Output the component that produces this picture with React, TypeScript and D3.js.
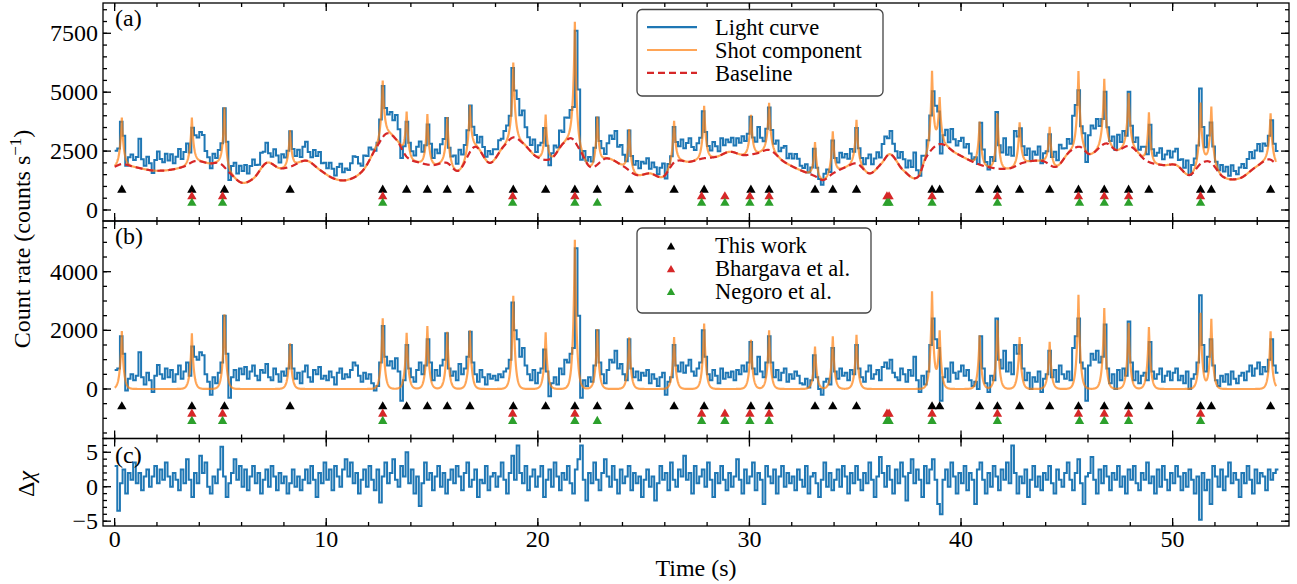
import React from "react";
import * as d3 from "d3";

// ---------- data ----------
const BIN = 0.125; // s, light-curve bin width
// baseline-subtracted light curve (counts s^-1), one value per bin starting at t = 0
const detrended = [
  650, 700, 1800, 1200, -50, 350, 500, 300,
  450, 1250, 400, 150, 550, 300, -100, 450,
  820, 500, 350, 700, 400, 650, 250, 500,
  800, 350, 600, 900, 450, 1450, 1100, 1000,
  1250, 1150, 500, 250, -200, 400, 200, 550,
  900, 2500, 1200, -300, 400, 650, 300, 700,
  500, 750, 350, 600, 800, 450, 300, 650,
  550, 850, 400, 300, 700, 500, 250, 600,
  450, 700, 1500, 700, 350, 550, 200, 600,
  800, 400, 250, 650, 500, 750, 350, 450,
  300, 600, 400, 150, 550, 700, 350, 500,
  400, 650, 900, 800, 450, 250, 550, 350,
  500, 200, -50, 100, 900, 2150, 1100, 800,
  950, 700, 1050, 600, -400, 300, 1500, 700,
  400, 250, 650, 900, 500, 800, 1700, 900,
  300, 650, 450, 800, 1000, 1900, 700, 450,
  600, 300, 850, 500, 700, 1100, 1950, 900,
  500, 250, 650, 400, 150, 500, 350, 450,
  300, 500, 400, 600, 700, 1000, 2950, 2000,
  1700, 1100, 1400, 800, 500, 300, 650, 200,
  550, 700, 1350, 600, -250, 200, 400, 150,
  700, 500, 1000, 900, 1200, 1400, 4800, 2500,
  -300, 300, 100, 400, 250, 800, 2000, 900,
  500, 200, 650, 1000, 900, 1300, 700, 850,
  500, 300, 1700, 700, 400, 600, 300, 550,
  450, 650, 200, 500, 350, 100, 400, 550,
  -200, 250, 400, 1500, 800, 600, 900, 550,
  800, 1000, 600, 450, 700, 900, 2000, 1100,
  500, 300, 650, 450, 200, 700, 350, 550,
  400, 600, 300, 650, 500, 800, 600, 900,
  1600, 700, 500, 1100, 600, 400, 900, 1800,
  900, 400, 650, 300, 550, 700, 250, 500,
  350, 600, 450, 200, 150, 350, 50, 300,
  1150, 400, 0, -200, 250, 350, 150, 1400,
  600, 350, 700, 450, 550, 300, 650, 500,
  1500, 700, 400, 250, 600, 800, 350, 500,
  650, 300, 750, 900, 700, 1000, 550, 400,
  300, 700, 500, 250, 650, 450, 1100, 300,
  -100, 450, 150, 600, 1500, 2400, 1700, 1400,
  -400, 400, 700, 250, 900, 550, 350, 600,
  800, 450, 650, 300, 100, 250, 0, 1800,
  700, 200, -100, 450, 300, 2400, 1000, 700,
  1300, 600, 900, 500, 1500, 1200, 1500, 700,
  300, 550, 0, 400, 250, 600, -100, 350,
  500, 1300, 400, 650, 250, 800, 500, 350,
  600, 300, 1400, 1800, 2400, 900, 700, -400,
  800, 1200, 1000, 1300, 900, 1100, 2200, 700,
  200, 500, 0, 650, 300, 700, 450, 2300,
  900, 300, 600, 200, 450, 550, 300, 1600,
  600, 350, 500, 700, 250, 450, 600, 300,
  550, 700, 300, 450, 200, 600, 0, 350,
  500, 900, 3200, 1500, 600, 1100, 1700, 800,
  300, 100, 450, 250, 500, 150, 600, 350,
  200, 450, 550, 300, 600, 800, 450, 700,
  900, 500, 750, 600, 1000, 1700, 800, 550,
];

// residuals, one per bin
const deltaChi = [
  3.0, -3.5, 0.5, 2.5, -1.0, 2.0, 1.0, 3.5,
  0.5, 2.0, -0.5, 1.5, 2.5, 0.0, 1.5, 3.0,
  0.5, 2.5, 1.0, 3.5, 1.5, 0.0, 2.0, 1.0,
  -0.5, 2.5, 0.5, 4.0, 1.0, -1.5, 2.0, 0.5,
  4.5, 2.0, 3.5, 0.0, -1.0, 1.5, 0.5, 2.5,
  5.8, 1.5, -1.5, 0.5, 2.0, 4.0, 1.0, 3.0,
  0.0, 2.5, -0.5, 1.5, 3.0, 0.5, 2.0, -1.0,
  1.0, 2.5, 0.0, 3.0, 1.5, -0.5, 2.0, 0.5,
  1.5, -1.0, 0.5, 2.5, 0.0, 1.5, -0.5, 1.0,
  2.5, 0.5, 3.0, 1.0, -1.5, 2.0, 0.5, 3.5,
  1.0, 2.5, -0.5, 3.0, 1.5, 0.0, 2.5, 4.0,
  1.5, 3.5, 0.5, 2.0, -1.0, 1.0, 2.5, 0.0,
  3.0, 1.0, -0.5, 2.5, -2.3, 1.5, 3.5, 0.5,
  2.0, 4.0, 1.0, 0.0, 3.0, 1.5, 5.0, 0.5,
  2.5, -1.0, 1.5, -2.8, 0.5, 3.5, 1.0, 2.0,
  -0.5, 1.5, 3.0, 0.0, 2.0, -1.0, 1.0, 2.5,
  0.5, 3.0, 1.5, -0.5, 2.0, 3.5, 0.0, 1.0,
  2.5, -1.5, 1.0, 0.5, 3.0, -0.5, 1.5, 2.0,
  0.0, 1.5, 3.5, 1.0, -1.0, 2.0, 4.5, 1.0,
  6.0, 2.0, 0.5, 3.0, -0.5, 1.5, 2.5, 0.0,
  1.5, 3.0, -1.5, 1.0, 2.5, 0.0, 3.5, 1.5,
  -0.5, 2.0, 1.0, 3.0, 0.5, -1.0, 2.5, 4.0,
  6.0, 1.0, -2.0, 2.0, 0.5, 3.5, 1.0, -0.5,
  2.0, 4.0, 1.5, 0.0, 3.0, 1.0, -1.0, 2.5,
  0.5, 1.5, 3.0, -0.5, 2.0, 0.5, 1.5, -1.5,
  1.0, 2.5, 0.0, 1.5, -2.0, 0.5, 3.0, 1.0,
  2.0, -0.5, 3.5, 1.0, 0.0, 2.5, 1.5, 4.5,
  1.0, 2.0, -1.0, 3.0, 0.5, 1.5, 2.5, 0.0,
  3.5, 1.0, -1.5, 2.0, 0.5, 3.0, 1.0, -0.5,
  2.0, 0.0, 1.5, 4.0, 1.0, -1.0, 2.5, 0.5,
  1.5, 3.5, -0.5, 2.0, 1.0, -2.5, 3.0, 1.5,
  0.5, 2.5, -1.0, 1.5, 3.0, 0.0, 2.0, 0.5,
  1.5, -0.5, 2.5, 1.0, 0.0, 3.0, -1.0, 1.5,
  2.0, 0.5, -1.5, 1.0, 3.5, 0.0, 2.0, -0.5,
  1.0, 2.5, 0.0, 3.0, 1.5, -1.0, 2.0, 0.5,
  3.0, 1.0, -0.5, 2.0, 0.5, 3.5, 1.0, -1.5,
  1.5, 4.3, 2.0, 0.0, 3.0, 1.0, -1.0, 2.5,
  0.5, 3.5, 1.5, -2.0, 2.0, 4.0, 0.5, 2.5,
  1.0, -1.5, 3.0, 0.5, 2.5, 4.0, 1.0, -2.5,
  -4.0, 1.0, 2.5, 0.0, 3.5, 1.5, -1.0, 2.0,
  0.5, 3.0, -0.5, 2.0, 1.0, -2.5, 2.5, 3.5,
  1.0, -1.0, 2.0, 0.0, 3.0, 1.5, -0.5, 2.5,
  1.0, 3.5, 0.5, 6.0, 2.0, -1.0, 1.5, 0.5,
  2.5, -1.5, 1.0, 3.0, 0.0, 1.5, -0.5, 2.0,
  1.0, 3.0, 0.5, -1.0, 2.5, 1.0, 0.0, 2.0,
  3.5, 1.0, -0.5, 2.0, 4.0, 0.5, -2.5, 1.5,
  2.0, 4.3, 1.0, -1.0, 2.5, 0.5, 3.0, 1.5,
  -0.5, 2.0, 1.0, 3.0, 0.0, 1.5, -1.0, 2.5,
  1.0, 3.0, 0.5, -0.5, 2.0, 1.0, 3.5, 0.5,
  1.5, -1.0, 2.5, 0.0, 3.0, 1.0, -0.5, 2.0,
  0.5, 3.0, 1.5, -0.5, 2.0, 0.0, 2.5, 1.0,
  -1.0, 1.5, -4.8, 2.0, -0.5, 1.0, -2.5, 3.0,
  1.5, 0.0, 2.5, -0.5, 1.5, 3.5, 0.5, 2.0,
  1.0, -1.5, 2.0, 0.5, 3.0, 1.0, -1.0, 2.5,
  0.5, 2.0, 1.5, -0.5, 2.5, 1.0, 2.0, 2.5,
];

// baseline knots (time s, counts s^-1)
const baselineT = [0.0, 0.34, 0.89, 1.99, 3.25, 3.8, 4.51, 4.98, 5.46, 6.01, 6.56, 7.19, 7.82, 8.29, 9.08, 9.71, 10.34, 10.97, 11.75, 12.39, 12.86, 13.33, 13.8, 14.43, 15.06, 15.69, 16.24, 17.03, 17.74, 18.37, 18.84, 19.31, 19.94, 20.65, 21.2, 21.6, 21.99, 22.46, 23.25, 24.03, 24.67, 25.3, 25.92, 26.48, 27.18, 27.81, 28.45, 29.07, 29.7, 30.34, 30.96, 31.59, 32.22, 33.09, 33.48, 33.95, 34.59, 35.06, 35.69, 36.24, 36.63, 37.26, 37.97, 38.37, 38.99, 39.78, 40.73, 41.36, 42.3, 42.93, 43.87, 44.51, 45.13, 45.61, 46.08, 46.87, 47.34, 47.97, 48.76, 49.54, 50.17, 50.8, 51.35, 51.75, 52.38, 53.16, 53.95, 54.58, 54.9];
const baselineV = [1836, 1950, 1836, 1666, 1836, 2076, 1977, 1977, 1554, 1158, 1342, 2005, 1765, 1836, 2090, 1695, 1342, 1271, 1695, 2683, 3249, 2966, 2260, 2005, 1907, 2005, 1666, 2683, 2000, 2683, 3080, 2825, 2260, 2190, 2825, 3037, 2542, 1836, 2190, 1864, 1483, 1554, 1412, 2048, 2048, 2190, 2260, 2472, 2331, 2401, 2542, 2076, 1765, 1440, 1271, 1554, 1836, 1977, 1554, 1977, 2370, 1695, 1412, 2260, 2796, 2401, 1977, 1808, 1765, 2005, 2076, 1836, 2472, 2683, 2370, 2825, 2542, 2712, 2090, 1907, 1907, 1483, 1977, 2048, 1412, 1342, 1836, 2147, 1950];

// shot times (this work) and shot peak amplitudes
const thisWork = [0.34, 3.65, 5.19, 8.29, 12.67, 13.80, 14.78, 15.72, 16.79, 18.84, 20.37, 21.75, 22.81, 24.32, 26.44, 27.86, 30.07, 30.93, 33.10, 33.94, 35.06, 38.63, 38.99, 40.88, 41.72, 42.77, 44.19, 45.55, 46.77, 47.92, 48.88, 51.32, 51.83, 54.63];
const shotAmp = [1976, 1897, 2545, 1556, 2408, 1920, 2147, 1950, 2000, 3180, 1930, 5090, 2045, 1760, 1770, 2230, 1680, 2000, 1450, 1795, 1850, 3295, 1940, 1830, 2340, 1770, 1610, 3215, 2760, 2250, 2110, 2590, 2385, 1965];
const bhargava = [3.65, 5.10, 12.67, 18.81, 21.75, 27.74, 28.84, 30.02, 30.93, 36.5, 36.6, 38.63, 41.72, 45.55, 46.77, 47.92, 51.32];
const negoro = [3.65, 5.10, 12.67, 18.81, 21.75, 22.81, 27.74, 28.84, 30.02, 30.93, 36.5, 36.6, 38.63, 41.72, 45.6, 46.77, 47.92, 51.32];

// marker rows (counts s^-1) in panels (a) and (b)
const markerRowA = [850, 570, 290];
const markerRowB = [-600, -850, -1100];

const xTicks = [0, 10, 20, 30, 40, 50];
const aTicks = [0, 2500, 5000, 7500];
const bTicks = [0, 2000, 4000];
const cTicks = [-5, 0, 5];
const legendA = ["Light curve", "Shot component", "Baseline"];
const legendB = ["This work", "Bhargava et al.", "Negoro et al."];

// ---------- helpers ----------
const TAU = 0.09;
function makeHermite(xs: number[], ys: number[]) {
  const n = xs.length;
  const d: number[] = [];
  for (let k = 0; k < n - 1; k++) d.push((ys[k + 1] - ys[k]) / (xs[k + 1] - xs[k]));
  const m: number[] = xs.map((_, k) => (k === 0 ? d[0] : k === n - 1 ? d[n - 2] : (d[k - 1] + d[k]) / 2));
  return (t: number) => {
    if (t <= xs[0]) return ys[0];
    if (t >= xs[n - 1]) return ys[n - 1];
    const k = Math.min(n - 2, d3.bisectRight(xs, t) - 1);
    const h = xs[k + 1] - xs[k];
    const s = (t - xs[k]) / h;
    const s2 = s * s, s3 = s2 * s;
    return (2 * s3 - 3 * s2 + 1) * ys[k] + (s3 - 2 * s2 + s) * h * m[k] + (-2 * s3 + 3 * s2) * ys[k + 1] + (s3 - s2) * h * m[k + 1];
  };
}

const FONT = "'Liberation Serif', 'Times New Roman', Times, serif";
const BLUE = "#1f77b4", ORANGE = "#ff7f0e", RED = "#d62728", GREEN = "#2ca02c";

export default function App() {
  const W = 1297, H = 584;
  const L = 103, R = 1289;
  const x = d3.scaleLinear().domain([-0.55, 55.5]).range([L, R]);
  const ya = d3.scaleLinear().domain([-467, 8786]).range([221, 3]);
  const yb = d3.scaleLinear().domain([-1688, 5728]).range([438.5, 221]);
  const yc = d3.scaleLinear().domain([-5.7, 7.0]).range([526, 438.5]);

  const baseAt = makeHermite(baselineT, baselineV);
  const shotAt = (t: number) => d3.sum(thisWork, (t0, j) => shotAmp[j] * Math.exp(-Math.abs(t - t0) / TAU));

  const grid = d3.range(0, 54.9001, 0.01);
  const lcB: [number, number][] = detrended.map((v, i) => [i * BIN, v]);
  lcB.push([detrended.length * BIN, detrended[detrended.length - 1]]);
  const lcA: [number, number][] = lcB.map(([t, v]) => [t, v + baseAt(Math.min(t, (detrended.length - 1) * BIN) + BIN / 2)]);
  const dc: [number, number][] = deltaChi.map((v, i) => [i * BIN, v]);
  dc.push([deltaChi.length * BIN, deltaChi[deltaChi.length - 1]]);

  const step = (y: d3.ScaleLinear<number, number>) =>
    d3.line<[number, number]>().x((d) => x(d[0])).y((d) => y(d[1])).curve(d3.curveStepAfter);
  const smooth = (y: d3.ScaleLinear<number, number>) =>
    d3.line<[number, number]>().x((d) => x(d[0])).y((d) => y(d[1]));

  const baseLine: [number, number][] = grid.map((t) => [t, baseAt(t)]);
  const shotA: [number, number][] = grid.map((t) => [t, baseAt(t) + shotAt(t)]);
  const shotB: [number, number][] = grid.map((t) => [t, shotAt(t)]);

  const tri = d3.symbol(d3.symbolTriangle, 38)()!;
  const triLeg = d3.symbol(d3.symbolTriangle, 30)()!;

  const xMinor = d3.range(0, 55.5, 2);

  const panels = [
    { y: ya, top: 3, bottom: 221, major: aTicks, minor: d3.range(0, 8786, 500), labels: aTicks.map(String) },
    { y: yb, top: 221, bottom: 438.5, major: bTicks, minor: d3.range(-1500, 5728, 500), labels: bTicks.map(String) },
    { y: yc, top: 438.5, bottom: 526, major: cTicks, minor: d3.range(-5, 7.01, 1), labels: cTicks.map((v) => (v < 0 ? "\u2212" + Math.abs(v) : String(v))) },
  ];

  const markerSets = [
    { times: thisWork, color: "#000" },
    { times: bhargava, color: RED },
    { times: negoro, color: GREEN },
  ];

  const LEG_FS = 22.5;

  return (
    <svg width={W} height={H} style={{ position: "absolute", left: 0, top: 0, background: "#fff" }} fontFamily={FONT}>
      <defs>
        {panels.map((p, i) => (
          <clipPath id={`clip${i}`} key={i}>
            <rect x={L} y={p.top} width={R - L} height={p.bottom - p.top} />
          </clipPath>
        ))}
      </defs>
      <rect x={0} y={0} width={W} height={H} fill="#fff" />

      {/* panel (a) */}
      <g clipPath="url(#clip0)">
        <path d={step(ya)(lcA)!} fill="none" stroke={BLUE} strokeWidth={2} />
        <path d={smooth(ya)(shotA)!} fill="none" stroke={ORANGE} strokeOpacity={0.7} strokeWidth={2.2} />
        <path d={smooth(ya)(baseLine)!} fill="none" stroke={RED} strokeWidth={2.2} strokeDasharray="7,4" />
        {markerSets.map((ms, k) =>
          ms.times.map((t, j) => (
            <path key={`a${k}-${j}`} d={tri} fill={ms.color} transform={`translate(${x(t)},${ya(markerRowA[k])})`} />
          ))
        )}
      </g>

      {/* panel (b) */}
      <g clipPath="url(#clip1)">
        <path d={step(yb)(lcB)!} fill="none" stroke={BLUE} strokeWidth={2} />
        <path d={smooth(yb)(shotB)!} fill="none" stroke={ORANGE} strokeOpacity={0.7} strokeWidth={2.2} />
        {markerSets.map((ms, k) =>
          ms.times.map((t, j) => (
            <path key={`b${k}-${j}`} d={tri} fill={ms.color} transform={`translate(${x(t)},${yb(markerRowB[k])})`} />
          ))
        )}
      </g>

      {/* panel (c) */}
      <g clipPath="url(#clip2)">
        <path d={step(yc)(dc)!} fill="none" stroke={BLUE} strokeWidth={2} />
      </g>

      {/* frames and ticks */}
      {panels.map((p, i) => (
        <g key={`f${i}`} stroke="#000" strokeWidth={1.3}>
          {xMinor.map((t) => (
            <g key={`xm${t}`}>
              <line x1={x(t)} x2={x(t)} y1={p.bottom} y2={p.bottom - 4} />
              <line x1={x(t)} x2={x(t)} y1={p.top} y2={p.top + 4} />
            </g>
          ))}
          {xTicks.map((t) => (
            <g key={`xM${t}`}>
              <line x1={x(t)} x2={x(t)} y1={p.bottom} y2={p.bottom - 8} />
              <line x1={x(t)} x2={x(t)} y1={p.top} y2={p.top + 8} />
            </g>
          ))}
          {p.minor.map((v) => (
            <g key={`ym${v}`}>
              <line x1={L} x2={L + 4} y1={p.y(v)} y2={p.y(v)} />
              <line x1={R} x2={R - 4} y1={p.y(v)} y2={p.y(v)} />
            </g>
          ))}
          {p.major.map((v) => (
            <g key={`yM${v}`}>
              <line x1={L} x2={L + 8} y1={p.y(v)} y2={p.y(v)} />
              <line x1={R} x2={R - 8} y1={p.y(v)} y2={p.y(v)} />
            </g>
          ))}
          <rect x={L} y={p.top} width={R - L} height={p.bottom - p.top} fill="none" />
        </g>
      ))}

      {/* y tick labels */}
      {panels.map((p, i) =>
        p.major.map((v, j) => (
          <text key={`yl${i}-${j}`} x={98} y={p.y(v)} dy="0.34em" textAnchor="end" fontSize={24}>
            {p.labels[j]}
          </text>
        ))
      )}
      {/* x tick labels */}
      {xTicks.map((t) => (
        <text key={`xl${t}`} x={x(t)} y={547} textAnchor="middle" fontSize={24}>
          {t}
        </text>
      ))}

      {/* panel tags */}
      <text x={115} y={26} fontSize={24}>(a)</text>
      <text x={115} y={244} fontSize={24}>(b)</text>
      <text x={115} y={463} fontSize={24}>(c)</text>

      {/* axis labels */}
      <text transform="translate(30,239) rotate(-90)" textAnchor="middle" fontSize={24}>
        <tspan>Count rate (counts s</tspan>
        <tspan dy={-9} fontSize={17}>{"\u22121"}</tspan>
        <tspan dy={9}>)</tspan>
      </text>
      <text transform="translate(34,484) rotate(-90)" textAnchor="middle" fontSize={24}>
        <tspan>Δ</tspan>
        <tspan fontStyle="italic">χ</tspan>
      </text>
      <text x={(L + R) / 2} y={576} textAnchor="middle" fontSize={24}>Time (s)</text>

      {/* legend (a) */}
      <g>
        <rect x={637} y={9.5} width={246} height={86.5} rx={5} fill="#fff" fillOpacity={0.85} stroke="#444" strokeWidth={1.3} />
        {legendA.map((lab, i) => {
          const yy = 27.2 + i * 22.8;
          return (
            <g key={lab}>
              <line x1={647} x2={697} y1={yy} y2={yy}
                stroke={i === 0 ? BLUE : i === 1 ? ORANGE : RED}
                strokeOpacity={i === 1 ? 0.7 : 1}
                strokeWidth={2.2}
                strokeDasharray={i === 2 ? "7,4" : undefined} />
              <text x={715} y={yy + 8} fontSize={LEG_FS}>{lab}</text>
            </g>
          );
        })}
      </g>

      {/* legend (b) */}
      <g>
        <rect x={637} y={228} width={234} height={85} rx={5} fill="#fff" fillOpacity={0.85} stroke="#444" strokeWidth={1.3} />
        {legendB.map((lab, i) => {
          const yy = 245 + i * 22.8;
          return (
            <g key={lab}>
              <path d={triLeg} fill={markerSets[i].color} transform={`translate(671,${yy + 2})`} />
              <text x={715} y={yy + 8} fontSize={LEG_FS}>{lab}</text>
            </g>
          );
        })}
      </g>
    </svg>
  );
}
